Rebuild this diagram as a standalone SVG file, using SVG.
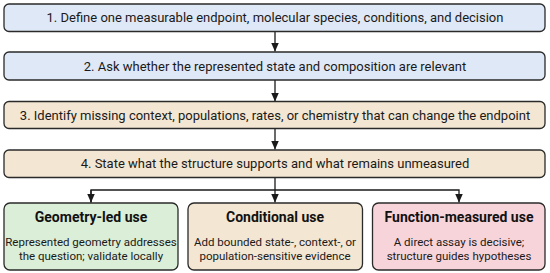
<svg xmlns="http://www.w3.org/2000/svg" width="550" height="273" viewBox="0 0 550 273">
<defs>
<marker id="ah" markerWidth="10" markerHeight="10" refX="9" refY="5" orient="auto" markerUnits="userSpaceOnUse"><path d="M0,1 L9,5 L0,9 Z" fill="#1a1a1a"/></marker>
<style>
.box{stroke:#2a2a2a;stroke-width:1.3}
.blue{fill:#dfe8f6}.tan{fill:#f3e6d2}.green{fill:#dbeed7}.pink{fill:#f7d4d9}
.t{font-family:Roboto,"Liberation Sans",sans-serif;font-size:13px;fill:#1a1a1a;text-anchor:middle}
.h{font-family:Roboto,"Liberation Sans",sans-serif;font-size:14px;font-weight:bold;fill:#111;text-anchor:middle}
.b{font-family:Roboto,"Liberation Sans",sans-serif;font-size:11.5px;fill:#1a1a1a;text-anchor:middle}
.c{fill:none;stroke:#1a1a1a;stroke-width:1.3}
</style>
</defs>
<rect width="550" height="273" fill="#ffffff"/>
<g id="connectors">
<line class="c" x1="275" y1="31.5" x2="275" y2="51.5" marker-end="url(#ah)"/>
<line class="c" x1="275" y1="80" x2="275" y2="101.5" marker-end="url(#ah)"/>
<line class="c" x1="275" y1="128.5" x2="275" y2="149.5" marker-end="url(#ah)"/>
<line class="c" x1="275" y1="177.5" x2="275" y2="202.5" marker-end="url(#ah)"/>
<polyline class="c" points="91,202.5 91,190 459,190 459,202.5" marker-end="url(#ah)"/>
<line class="c" x1="91" y1="190" x2="91" y2="202.5" marker-end="url(#ah)"/>
</g>
<g id="step1"><rect class="box blue" x="4" y="4" width="541" height="27.5" rx="5"/><text class="t" x="275" y="22">1. Define one measurable endpoint, molecular species, conditions, and decision</text></g>
<g id="step2"><rect class="box blue" x="4" y="52" width="541" height="28" rx="5"/><text class="t" x="275" y="70.5">2. Ask whether the represented state and composition are relevant</text></g>
<g id="step3"><rect class="box tan" x="4" y="101.5" width="541" height="27" rx="5"/><text class="t" x="275" y="119.5">3. Identify missing context, populations, rates, or chemistry that can change the endpoint</text></g>
<g id="step4"><rect class="box tan" x="4" y="150" width="541" height="27.5" rx="5"/><text class="t" x="275" y="168">4. State what the structure supports and what remains unmeasured</text></g>
<g id="geometry"><rect class="box green" x="4" y="203" width="174" height="67" rx="6"/><text class="h" x="91" y="222">Geometry-led use</text><text class="b" x="91" y="246">Represented geometry addresses</text><text class="b" x="91" y="260">the question; validate locally</text></g>
<g id="conditional"><rect class="box tan" x="188" y="203" width="174.5" height="67" rx="6"/><text class="h" x="275" y="222">Conditional use</text><text class="b" x="275" y="246">Add bounded state-, context-, or</text><text class="b" x="275" y="260">population-sensitive evidence</text></g>
<g id="function"><rect class="box pink" x="372.5" y="203" width="172.5" height="67" rx="6"/><text class="h" x="459" y="222">Function-measured use</text><text class="b" x="459" y="246">A direct assay is decisive;</text><text class="b" x="459" y="260">structure guides hypotheses</text></g>
</svg>
